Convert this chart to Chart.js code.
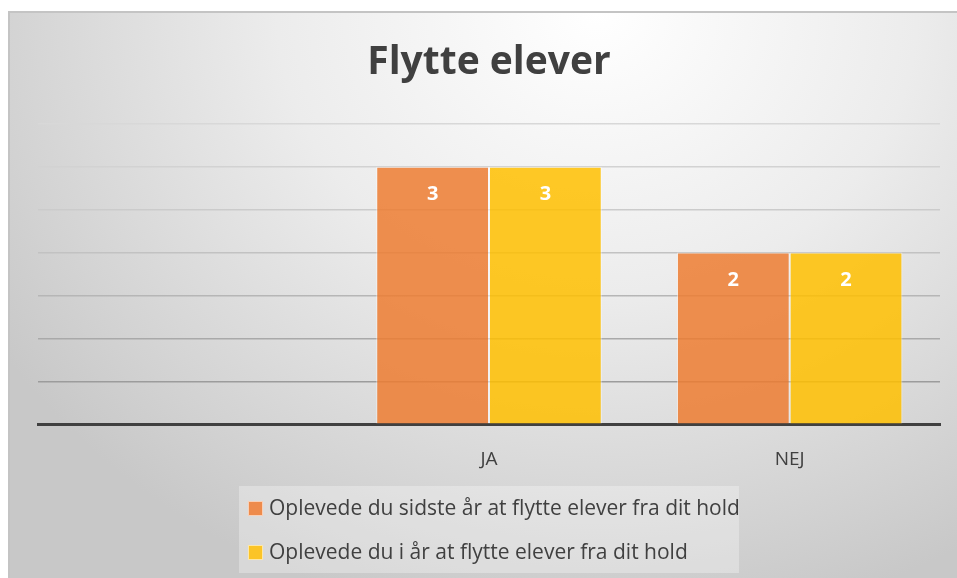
<!DOCTYPE html>
<html lang="da">
<head>
<meta charset="UTF-8">
<title>Flytte elever</title>
<style>
  html, body { margin: 0; padding: 0; background: #fff; overflow: hidden; }
  #frame {
    position: absolute; left: 8px; top: 11px; width: 949px; height: 567px;
    border-top: 2px solid #c4c4c4; border-left: 2px solid #c4c4c4;
    box-sizing: border-box;
    background: radial-gradient(ellipse 75% 110% at 62% 0%, #ffffff 0%, #ececec 45%, #d2d2d2 85%, #c8c8c8 100%);
  }
  #chartBox { position: absolute; left: 0; top: 0; width: 947px; height: 565px; }
  #legend {
    position: absolute; left: 229px; top: 473px; width: 500px; height: 87px;
    background: rgba(255,255,255,0.3);
    font-family: "Open Sans", sans-serif; font-size: 21px; color: #404040;
  }
  .item { position: absolute; left: 9px; white-space: nowrap; line-height: 24px; }
  .sw { display: inline-block; width: 13px; height: 13px; margin-right: 6px; vertical-align: -1px;
        border: 1px solid rgba(255,255,255,0.6); }
</style>
</head>
<body>
<div id="frame">
  <div id="chartBox"><canvas id="flytChart"></canvas></div>
  <div id="legend"></div>
</div>
<script src="https://cdn.jsdelivr.net/npm/chart.js"></script>
<script>
const categories = ['', 'JA', 'NEJ'];
const sidsteAar = [null, 3, 2];
const iAar = [null, 3, 2];
const seriesNames = [
  'Oplevede du sidste år at flytte elever fra dit hold',
  'Oplevede du i år at flytte elever fra dit hold'
];
const seriesColors = ['rgba(237,125,49,0.85)', 'rgba(255,192,0,0.85)'];
const swatchColors = ['#ee8b4c', '#fbc427'];

// grid lines go darker towards the bottom
const gridColors = ['#404040', '#9c9c9c', '#a9a9a9', '#b6b6b6', '#c2c2c2', '#cbcbcb', '#d2d2d2', '#d8d8d8'];

const barLabels = {
  id: 'barLabels',
  afterDatasetsDraw(chart) {
    const ctx = chart.ctx;
    ctx.save();
    ctx.fillStyle = '#ffffff';
    ctx.font = 'bold 20px "Open Sans"';
    ctx.textAlign = 'center';
    ctx.textBaseline = 'middle';
    chart.data.datasets.forEach((ds, i) => {
      chart.getDatasetMeta(i).data.forEach((bar, j) => {
        if (ds.data[j] == null) return;
        ctx.fillText(ds.data[j], bar.x, bar.y + 28);
      });
    });
    ctx.restore();
  }
};

new Chart(document.getElementById('flytChart'), {
  type: 'bar',
  data: {
    labels: categories,
    datasets: [
      { label: seriesNames[0], data: sidsteAar, backgroundColor: seriesColors[0],
        borderColor: 'rgba(255,255,255,0.55)', borderWidth: 1 },
      { label: seriesNames[1], data: iAar, backgroundColor: seriesColors[1],
        borderColor: 'rgba(255,255,255,0.55)', borderWidth: 1 }
    ]
  },
  options: {
    responsive: true,
    maintainAspectRatio: false,
    animation: false,
    layout: { padding: { left: 28, right: 17, top: 26, bottom: 83 } },
    datasets: { bar: { categoryPercentage: 0.75, barPercentage: 1 } },
    plugins: {
      legend: { display: false },
      tooltip: { enabled: false },
      title: {
        display: true,
        text: 'Flytte elever',
        color: '#404040',
        font: { family: 'Open Sans', size: 39, weight: 'bold' },
        padding: { top: 0, bottom: 38 }
      }
    },
    scales: {
      x: {
        grid: { display: false, drawTicks: false },
        border: { display: true, color: '#404040', width: 3 },
        ticks: { color: '#404040', font: { family: 'Open Sans', size: 19 }, padding: 24 }
      },
      y: {
        min: 0, max: 3.5,
        ticks: { display: false, stepSize: 0.5 },
        border: { display: false },
        grid: { drawTicks: false, lineWidth: 1.5, color: c => gridColors[c.index] || '#cccccc' }
      }
    }
  },
  plugins: [barLabels]
});

const legend = document.getElementById('legend');
seriesNames.forEach((name, i) => {
  const row = document.createElement('div');
  row.className = 'item';
  row.style.top = (9 + i * 44) + 'px';
  const sw = document.createElement('span');
  sw.className = 'sw';
  sw.style.background = swatchColors[i];
  row.appendChild(sw);
  row.appendChild(document.createTextNode(name));
  legend.appendChild(row);
});
</script>
</body>
</html>
